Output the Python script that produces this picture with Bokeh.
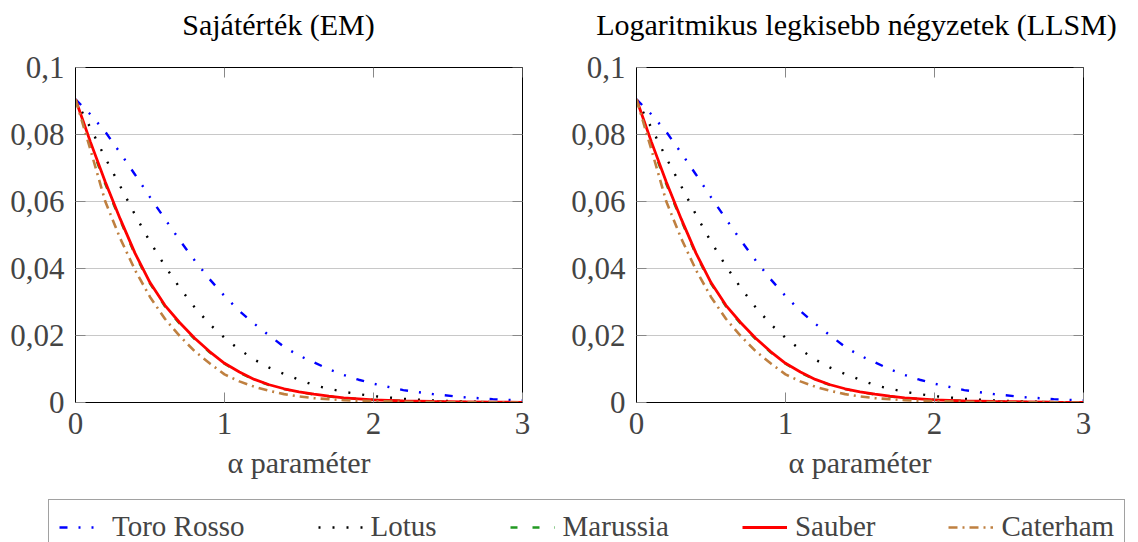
from bokeh.plotting import figure
from bokeh.models import (Range1d, FixedTicker, CustomJSTickFormatter,
                          Legend, LegendItem, Label)
from bokeh.layouts import column, row
from bokeh.embed import file_html
from bokeh.resources import INLINE

# ---- data ----
alpha = [0.0, 0.1, 0.2, 0.3, 0.4, 0.5, 0.6, 0.7, 0.8, 0.9, 1.0, 1.1, 1.2, 1.3,
         1.4, 1.5, 1.6, 1.7, 1.8, 1.9, 2.0, 2.2, 2.4, 2.6, 2.8, 3.0]

toro_rosso = [0.0905, 0.0860, 0.0808, 0.0745, 0.0680, 0.0613, 0.0548, 0.0484,
              0.0424, 0.0368, 0.0318, 0.0273, 0.0235, 0.0200, 0.0166, 0.0140,
              0.0120, 0.0099, 0.0082, 0.0068, 0.0056, 0.0037, 0.0025, 0.0016,
              0.0010, 0.0006]
lotus = [0.0905, 0.0820, 0.0730, 0.0646, 0.0560, 0.0480, 0.0408, 0.0342,
         0.0284, 0.0234, 0.0193, 0.0158, 0.0128, 0.0104, 0.0085, 0.0068,
         0.0052, 0.0041, 0.0032, 0.0025, 0.0019, 0.0011, 0.0006, 0.0003,
         0.0001, 0.00005]
marussia = [0.0905, 0.0772, 0.0652, 0.0544, 0.0441, 0.0355, 0.0287, 0.0235,
            0.0189, 0.0150, 0.0116, 0.0089, 0.0068, 0.0052, 0.0040, 0.0031,
            0.0024, 0.0018, 0.0014, 0.0011, 0.0008, 0.0005, 0.0003, 0.0002,
            0.0001, 0.00005]
sauber = [0.0905, 0.0778, 0.0658, 0.0548, 0.0445, 0.0358, 0.0290, 0.0238,
          0.0192, 0.0152, 0.0117, 0.0091, 0.0069, 0.0053, 0.0041, 0.0032,
          0.0025, 0.0019, 0.0014, 0.0011, 0.0008, 0.0005, 0.0003, 0.0002,
          0.0001, 0.00005]
caterham = [0.0905, 0.0755, 0.0600, 0.0490, 0.0395, 0.0315, 0.0250, 0.0198,
            0.0153, 0.0117, 0.0084, 0.0063, 0.0047, 0.0035, 0.0025, 0.0018,
            0.0013, 0.0010, 0.0007, 0.0005, 0.0004, 0.0002, 0.0001, 0.00005,
            0.00003, 0.00001]

names = ["Toro Rosso", "Lotus", "Marussia", "Sauber", "Caterham"]
values = [toro_rosso, lotus, marussia, sauber, caterham]
colors = ["#0000ff", "#000000", "#229922", "#ff0000", "#bf8040"]
dashes = ["8 11 2 11 2 11", "2 12", "7 15", "solid", "9 5 2 5"]
widths = [2.4, 2.4, 2.4, 2.8, 2.6]

y_ticks = [0, 0.02, 0.04, 0.06, 0.08, 0.1]
x_ticks = [0, 1, 2, 3]
titles = ["Sajátérték (EM)", "Logaritmikus legkisebb négyzetek (LLSM)"]
x_label = "α paraméter"

FONT = "Liberation Serif"
X_MAX, Y_MAX = 3, 0.1
FRAME_W, FRAME_H = 447, 334
TITLE_H = 46

fmt = CustomJSTickFormatter(code="""
    let s = tick.toFixed(2).replace(/0+$/, '').replace(/\\.$/, '');
    return s.replace('.', ',');
""")


def make_panel(width, border_left, border_right):
    p = figure(width=width, height=490 - TITLE_H, x_range=Range1d(0, X_MAX),
               y_range=Range1d(0, Y_MAX), toolbar_location=None, output_backend="svg",
               min_border_left=border_left, min_border_right=border_right,
               min_border_top=67 - TITLE_H, min_border_bottom=88,
               outline_line_color="black", outline_line_width=1)

    p.xaxis.ticker = FixedTicker(ticks=x_ticks)
    p.yaxis.ticker = FixedTicker(ticks=y_ticks)
    p.yaxis.formatter = fmt
    p.ygrid.ticker = FixedTicker(ticks=y_ticks)
    p.xgrid.visible = False
    p.ygrid.grid_line_color = "#c8c8c8"
    p.ygrid.grid_line_width = 1

    for ax in (p.xaxis[0], p.yaxis[0]):
        ax.major_label_text_font = FONT
        ax.major_label_text_font_size = "31px"
        ax.major_tick_in = 10
        ax.major_tick_out = 0
        ax.minor_tick_in = 0
        ax.minor_tick_out = 0
        ax.major_tick_line_color = "#888888"
        ax.axis_line_color = "black"
    p.yaxis.major_label_standoff = 11
    p.xaxis.major_label_standoff = 10
    p.xaxis.axis_label = x_label
    p.xaxis.axis_label_text_font = FONT
    p.xaxis.axis_label_text_font_size = "30px"
    p.xaxis.axis_label_text_font_style = "normal"
    p.xaxis.axis_label_standoff = 9

    # mirrored inward ticks on the top and right frame edges (10 px long)
    ty = Y_MAX * 10 / FRAME_H
    tx = X_MAX * 10 / FRAME_W
    p.segment(x0=x_ticks, y0=[Y_MAX] * len(x_ticks), x1=x_ticks,
              y1=[Y_MAX - ty] * len(x_ticks), line_color="#888888", line_width=1)
    p.segment(x0=[X_MAX] * len(y_ticks), y0=y_ticks, x1=[X_MAX - tx] * len(y_ticks),
              y1=y_ticks, line_color="#888888", line_width=1)

    for vals, c, d, w in zip(values, colors, dashes, widths):
        p.line(alpha, vals, line_color=c, line_dash=d, line_width=w)
    return p


p1 = make_panel(560, 75, 38)
p2 = make_panel(578, 76, 55)

# title strip above the two panels
tfig = figure(width=1138, height=TITLE_H, x_range=Range1d(0, 1), y_range=Range1d(0, 1),
              x_axis_type=None, y_axis_type=None, toolbar_location=None,
              output_backend="svg", min_border=0, outline_line_color=None)
for t, cx in zip(titles, [278, 856]):
    tfig.add_layout(Label(x=cx, y=TITLE_H - 24, x_units="screen", y_units="screen",
                          text=t, text_font=FONT, text_font_size="30px",
                          text_align="center", text_baseline="middle",
                          text_color="black"))

# legend strip: same series drawn on a range where the curves fall outside the view,
# so only the legend samples show
leg = figure(width=1138, height=52, x_range=Range1d(0, X_MAX), y_range=Range1d(1, 2),
             x_axis_type=None, y_axis_type=None, toolbar_location=None,
             output_backend="svg", min_border=0, outline_line_color=None)
items = []
for n, vals, c, d, w in zip(names, values, colors, dashes, widths):
    r = leg.line(alpha, vals, line_color=c, line_dash=d, line_width=w)
    items.append(LegendItem(label=n, renderers=[r]))
legend = Legend(items=items, orientation="horizontal", location=(48, -12),
                label_text_font=FONT, label_text_font_size="29px",
                glyph_width=45, label_standoff=8, spacing=73, padding=10, margin=0,
                border_line_color="#444444", border_line_width=1,
                background_fill_color="white", background_fill_alpha=1)
leg.add_layout(legend, "center")

layout = column(tfig, row(p1, p2), leg)

open("out.html", "w").write(file_html(layout, INLINE))
